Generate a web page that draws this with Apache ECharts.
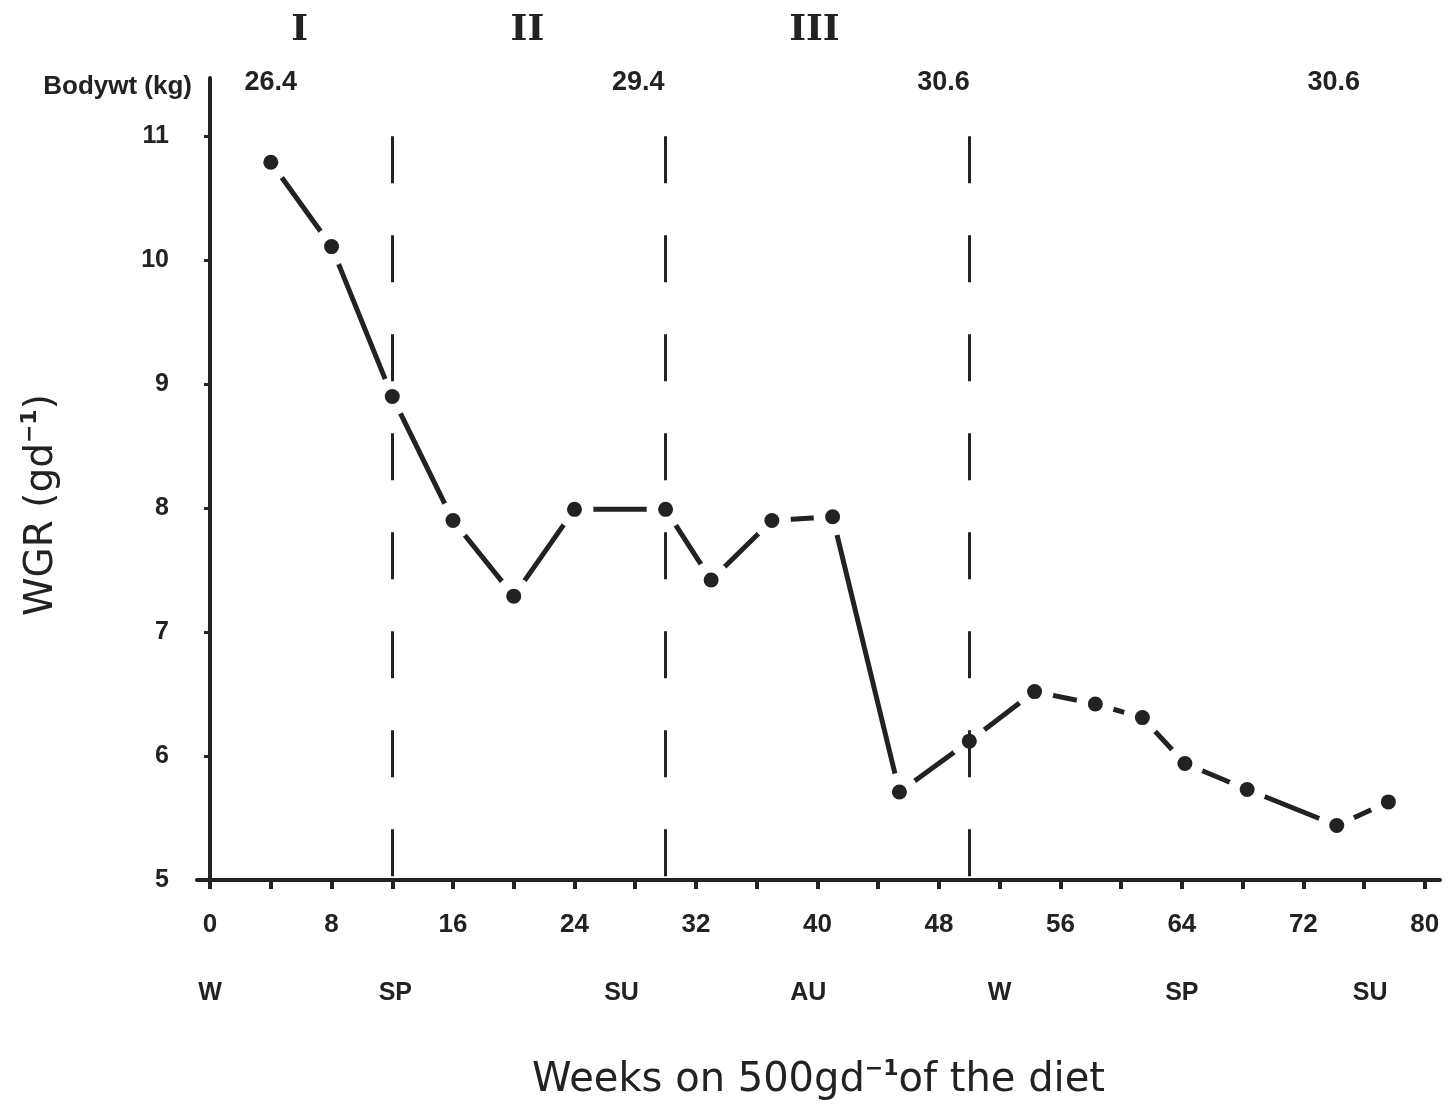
<!DOCTYPE html>
<html><head><meta charset="utf-8">
<script src="https://cdn.jsdelivr.net/npm/echarts@6/dist/echarts.min.js"></script>
<style>html,body{margin:0;padding:0;background:#fff}#c{width:1454px;height:1105px}</style>
</head><body><div id="c"></div>
<script>
// ---- data ----
const weeks = [4, 8, 12, 16, 20, 24, 30, 33, 37, 41, 45.4, 50, 54.3, 58.3, 61.4, 64.2, 68.3, 74.2, 77.6];
const wgr   = [10.79, 10.11, 8.9, 7.9, 7.29, 7.99, 7.99, 7.42, 7.9, 7.93, 5.71, 6.12, 6.52, 6.42, 6.31, 5.94, 5.73, 5.44, 5.63];
const xTickValues  = [0, 4, 8, 12, 16, 20, 24, 28, 32, 36, 40, 44, 48, 52, 56, 60, 64, 68, 72, 76, 80];
const xLabelValues = [0, 8, 16, 24, 32, 40, 48, 56, 64, 72, 80];
const yTickValues  = [5, 6, 7, 8, 9, 10, 11];
const periodBoundaries = [12, 30, 50];
const periodNames = ['I', 'II', 'III'];
const periodLabelWeeks = [5.9, 20.9, 39.8];
const bodywtValues = ['26.4', '29.4', '30.6', '30.6'];
const bodywtWeeks  = [4, 28.2, 48.3, 74];
const seasonNames = ['W', 'SP', 'SU', 'AU', 'W', 'SP', 'SU'];
const seasonWeeks = [0, 12.2, 27.1, 39.4, 52, 64, 76.4];

const INK = '#222';
const SANS = '"Liberation Sans", Arial, sans-serif';
const WIDE = '"DejaVu Sans", sans-serif';
const pts = weeks.map((w, i) => [w, wgr[i]]);

const chart = echarts.init(document.getElementById('c'), null, {renderer: 'canvas'});
chart.setOption({
  animation: false,
  backgroundColor: '#fff',
  grid: {left: 197, right: 14, top: 78, bottom: 225, containLabel: false, outerBoundsMode: 'none'},
  xAxis: {
    type: 'value', min: -0.86, max: 81,
    name: '{a|Weeks on 500gd}{s|−1}{a|of the diet}',
    nameLocation: 'middle', nameGap: 178,
    nameTextStyle: {
      rich: {
        a: {fontSize: 40, fontFamily: WIDE, color: INK, lineHeight: 46},
        s: {fontSize: 22, fontFamily: WIDE, color: INK, fontWeight: 'bold', lineHeight: 22, verticalAlign: 'top'}
      }
    },
    axisLine: {lineStyle: {color: INK, width: 4}},
    axisTick: {show: true, length: 9, lineStyle: {color: INK, width: 4}, customValues: xTickValues},
    axisLabel: {customValues: xLabelValues, margin: 32, fontSize: 26, fontWeight: 'bold', fontFamily: SANS, color: INK},
    splitLine: {show: false}
  },
  yAxis: {
    type: 'value', min: 5, max: 11.47, interval: 1,
    axisLine: {show: true, onZero: true, lineStyle: {color: INK, width: 4}},
    axisTick: {show: true, length: 6, lineStyle: {color: INK, width: 3}, customValues: yTickValues},
    axisLabel: {customValues: yTickValues, margin: 28, fontSize: 25, fontWeight: 'bold', fontFamily: SANS, color: INK},
    splitLine: {show: false}
  },
  series: [
    {
      type: 'line', data: pts, z: 2, silent: true,
      symbol: 'circle', symbolSize: 38, showSymbol: true,
      itemStyle: {color: '#fff', opacity: 1},
      lineStyle: {color: INK, width: 5}
    },
    {
      type: 'scatter', data: pts, z: 4, silent: true,
      symbol: 'circle', symbolSize: 15,
      itemStyle: {color: INK, opacity: 1},
      markLine: {
        silent: true, symbol: ['none', 'none'], label: {show: false},
        lineStyle: {color: INK, width: 3, type: [47, 52]},
        data: periodBoundaries.map(w => [{coord: [w, 11]}, {coord: [w, 5]}])
      }
    }
  ]
});

// annotations positioned through the scales
const px = w => chart.convertToPixel({xAxisIndex: 0}, w);
const py = v => chart.convertToPixel({yAxisIndex: 0}, v);
const graphics = [];
// y axis title
graphics.push({
  type: 'text', x: 42, y: (py(5) + py(11)) / 2 - 3, rotation: Math.PI / 2,
  style: {
    text: '{a|WGR (gd}{s|−1}{a|)}', align: 'center', verticalAlign: 'middle',
    rich: {
      a: {fontSize: 39, fontFamily: WIDE, fill: INK, lineHeight: 46},
      s: {fontSize: 22, fontFamily: WIDE, fill: INK, fontWeight: 'bold', lineHeight: 22, verticalAlign: 'top'}
    }
  }
});
periodNames.forEach((t, i) => graphics.push({
  type: 'text', x: px(periodLabelWeeks[i]), y: 31,
  style: {text: t, fontSize: 36, fontWeight: 'bold', fontFamily: '"DejaVu Serif", serif', fill: INK, align: 'center', verticalAlign: 'middle'}
}));
graphics.push({
  type: 'text', x: 192, y: 87,
  style: {text: 'Bodywt (kg)', fontSize: 26, fontWeight: 'bold', fontFamily: SANS, fill: INK, align: 'right', verticalAlign: 'middle'}
});
bodywtValues.forEach((t, i) => graphics.push({
  type: 'text', x: px(bodywtWeeks[i]), y: 83,
  style: {text: t, fontSize: 27, fontWeight: 'bold', fontFamily: SANS, fill: INK, align: 'center', verticalAlign: 'middle'}
}));
seasonNames.forEach((t, i) => graphics.push({
  type: 'text', x: px(seasonWeeks[i]), y: 993,
  style: {text: t, fontSize: 25, fontWeight: 'bold', fontFamily: SANS, fill: INK, align: 'center', verticalAlign: 'middle'}
}));
chart.setOption({graphic: graphics});
</script>
</body></html>
